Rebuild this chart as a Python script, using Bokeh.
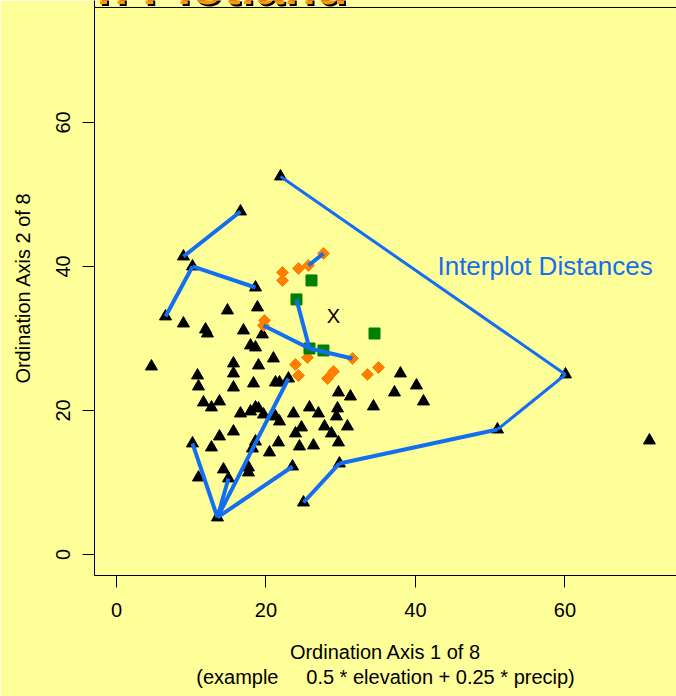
from bokeh.plotting import figure
from bokeh.models import Range1d, FixedTicker, Label, Span, LinearAxis
from bokeh.embed import file_html
from bokeh.resources import INLINE
from bokeh.core.properties import value

# ---------------- data ----------------
tri_x = [21.94, 16.59, 8.96, 10.17, 18.60, 6.56, 14.85, 18.86, 8.96, 11.91, 12.17, 16.99, 19.53, 17.93,
         18.60, 4.68, 21.00, 15.65, 19.00, 10.84, 15.65, 18.33, 21.27, 21.81, 23.01, 10.97, 15.65, 11.64,
         13.78, 12.71, 16.59, 17.93, 18.60, 19.00, 19.67, 21.27, 21.81, 23.68, 25.82, 24.75, 23.95, 15.65,
         13.78, 10.17, 12.71, 18.60, 18.19, 21.67, 24.48, 20.47, 14.31, 17.66, 17.66, 23.55, 10.97, 14.98,
         13.51, 25.02, 37.99, 40.13, 37.19, 41.07, 29.70, 31.30, 34.38, 27.02, 29.57, 29.43, 27.83, 30.90,
         28.76, 26.35, 29.70, 29.83, 60.07, 50.97, 71.30]
tri_y = [52.50, 47.64, 41.39, 40.00, 37.08, 33.06, 33.89, 34.31, 32.08, 31.25, 30.69, 31.11, 30.56, 29.03,
         28.75, 26.11, 27.22, 26.53, 26.25, 24.86, 25.14, 23.75, 23.89, 23.89, 24.44, 23.33, 23.19, 21.11,
         21.25, 20.42, 19.58, 19.86, 20.42, 20.28, 19.44, 19.17, 18.47, 19.58, 20.42, 17.64, 16.81, 17.08,
         16.39, 15.42, 14.86, 15.69, 14.72, 15.56, 15.00, 14.17, 11.81, 12.08, 11.39, 12.22, 10.69, 10.56,
         5.14, 7.22, 25.14, 23.47, 22.50, 21.25, 22.50, 21.94, 20.56, 19.58, 20.28, 19.17, 17.78, 17.78,
         16.81, 15.14, 15.56, 12.64, 25.00, 17.36, 15.83]

orange_x = [22.21, 22.21, 24.35, 25.69, 27.69, 19.80, 19.67, 25.55, 23.95, 24.35, 29.03, 28.23, 31.57, 33.58, 35.05]
orange_y = [39.17, 38.06, 39.72, 40.14, 41.81, 32.50, 31.81, 27.36, 26.39, 24.86, 25.42, 24.44, 27.22, 25.00, 25.97]

green_x = [26.09, 24.08, 25.82, 27.69, 34.52]
green_y = [38.06, 35.42, 28.61, 28.33, 30.69]

center_x = [29.03]
center_y = [33.06]

# links between plots: (group, index) -> (group, index)
long_links = [("t", 0, "t", 74), ("t", 74, "t", 75)]
links = [("t", 75, "t", 73), ("t", 73, "t", 57),
         ("t", 1, "t", 2), ("t", 3, "t", 4), ("t", 3, "t", 5),
         ("t", 56, "t", 43), ("t", 56, "t", 55), ("t", 56, "t", 24), ("t", 56, "t", 53),
         ("g", 1, "g", 2), ("o", 6, "g", 2), ("g", 2, "o", 12), ("o", 3, "o", 4)]

x_ticks = [0, 20, 40, 60]
y_ticks = [0, 20, 40, 60]
box_top = 75.97

# ---------------- styling ----------------
BG = "#FFFF99"
BLUE = "#146EF0"
FONT = "Liberation Sans"

groups = {"t": (tri_x, tri_y), "o": (orange_x, orange_y), "g": (green_x, green_y)}


def seg_coords(lst):
    x0, y0, x1, y1 = [], [], [], []
    for ga, ia, gb, ib in lst:
        x0.append(groups[ga][0][ia]); y0.append(groups[ga][1][ia])
        x1.append(groups[gb][0][ib]); y1.append(groups[gb][1][ib])
    return x0, y0, x1, y1


p = figure(width=676, height=696,
           x_range=Range1d(-2.94, 74.92), y_range=Range1d(-2.92, 76.94),
           output_backend="svg", toolbar_location=None,
           min_border_left=94, min_border_right=0, min_border_top=0, min_border_bottom=121,
           background_fill_color=BG, border_fill_color=BG)
p.outline_line_color = None
p.grid.visible = False

for ax in (p.xaxis, p.yaxis):
    ax.minor_tick_line_color = None
    ax.axis_line_color = "black"
    ax.major_tick_line_color = "black"
    ax.major_tick_in = 0
    ax.major_label_text_font = FONT
    ax.major_label_text_font_size = "20px"
    ax.major_label_text_color = "black"
    ax.axis_label_text_font = FONT
    ax.axis_label_text_font_size = "20px"
    ax.axis_label_text_font_style = "normal"
    ax.axis_label_text_color = "black"

p.xaxis.ticker = FixedTicker(ticks=x_ticks)
p.yaxis.ticker = FixedTicker(ticks=y_ticks)
p.xaxis.major_tick_out = 12
p.yaxis.major_tick_out = 12
p.xaxis.major_label_standoff = 15
p.yaxis.major_label_standoff = 12
p.yaxis.major_label_orientation = "vertical"
p.xaxis.axis_label = "Ordination Axis 1 of 8"
p.yaxis.axis_label = "Ordination Axis 2 of 8"
p.xaxis.axis_label_standoff = 21
p.yaxis.axis_label_standoff = 20

# second line of the x axis title, as a bare extra axis below the first
note_axis = LinearAxis(ticker=FixedTicker(ticks=[]), axis_line_color=None,
                       major_tick_line_color=None, minor_tick_line_color=None,
                       major_tick_out=0, major_tick_in=0, major_label_standoff=0,
                       axis_label="(example\u00a0\u00a0\u00a0\u00a0 0.5 * elevation + 0.25 * precip)",
                       axis_label_standoff=0, axis_label_text_font=FONT,
                       axis_label_text_font_size="20px", axis_label_text_font_style="normal",
                       axis_label_text_color="black")
p.add_layout(note_axis, "below")

# top edge of the plotting box
p.add_layout(Span(location=box_top, dimension="width", line_color="black", line_width=1))

# points
p.scatter(tri_x, tri_y, marker="triangle", size=12, fill_color="black", line_color="black")
p.scatter(orange_x, orange_y, marker="square", angle=0.785398, size=8.5,
          fill_color="#FF8000", line_color="#FF8000")
p.scatter(green_x, green_y, marker="square", size=11, fill_color="#008000", line_color="#008000")

# links
lx0, ly0, lx1, ly1 = seg_coords(long_links)
p.segment(lx0, ly0, lx1, ly1, line_color=BLUE, line_width=3)
sx0, sy0, sx1, sy1 = seg_coords(links)
p.segment(sx0, sy0, sx1, sy1, line_color=BLUE, line_width=4)

p.text(center_x, center_y, text=["X"], text_align="center", text_baseline="middle",
       text_font=value(FONT), text_font_size="20px", text_color="black")

p.add_layout(Label(x=42.94, y=40.0, text="Interplot Distances", text_font=FONT,
                   text_font_size="26px", text_color=BLUE, text_baseline="middle"))

# clipped slide title with shadow
p.add_layout(Label(x=31.17, y=78.69, text="Pixel in Plotland", text_font=FONT, text_font_size="52px",
                   text_font_style="bold", text_color="black", text_align="right",
                   text_baseline="middle"))
p.add_layout(Label(x=30.9, y=78.97, text="Pixel in Plotland", text_font=FONT, text_font_size="52px",
                   text_font_style="bold", text_color="#FF9900", text_align="right",
                   text_baseline="middle"))

open("out.html", "w").write(file_html(p, INLINE))
